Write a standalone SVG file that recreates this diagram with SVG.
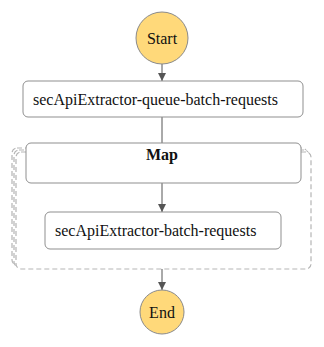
<svg xmlns="http://www.w3.org/2000/svg" width="324" height="347" viewBox="0 0 324 347">
  <style>
    .terminal { fill: #ffd97a; stroke: #8a8a8a; stroke-width: 1; }
    .task { fill: #ffffff; stroke: #8f8f8f; stroke-width: 1; }
    .frame { fill: #ffffff; stroke: #b5b5b5; stroke-width: 1.2; stroke-dasharray: 5 3; }
    .label { font-family: "Liberation Serif", "Times New Roman", serif; font-size: 16px; fill: #111; }
    .bold { font-weight: bold; }
    .edge { stroke: #555; stroke-width: 1; fill: none; }
  </style>
  <defs>
    <marker id="arrow" viewBox="0 0 10 10" refX="10" refY="5" markerWidth="8" markerHeight="8" markerUnits="userSpaceOnUse" orient="auto">
      <path d="M0,0 L10,5 L0,10 z" fill="#555"/>
    </marker>
  </defs>
  <rect width="324" height="347" fill="#ffffff"/>

  <!-- map iteration frame: stacked dashed outlines, back to front -->
  <g id="map-frame">
    <rect class="frame" x="12" y="148" width="295" height="117" rx="5"/>
    <rect class="frame" x="14" y="150" width="295" height="117" rx="5"/>
    <rect class="frame" x="16" y="152" width="295" height="117" rx="5"/>
  </g>

  <g id="connectors">
    <line class="edge" x1="162" y1="64" x2="162" y2="81" marker-end="url(#arrow)"/>
    <line class="edge" x1="162" y1="117" x2="162" y2="143"/>
    <line class="edge" x1="162" y1="183" x2="162" y2="212" marker-end="url(#arrow)"/>
    <line class="edge" x1="162" y1="269" x2="162" y2="290" marker-end="url(#arrow)"/>
  </g>

  <g id="start">
    <circle class="terminal" cx="162" cy="38" r="26"/>
    <text class="label" x="162" y="43.5" text-anchor="middle">Start</text>
  </g>

  <g id="queue-batch-requests">
    <rect class="task" x="23" y="81" width="280" height="36" rx="5"/>
    <text class="label" x="33" y="104.5">secApiExtractor-queue-batch-requests</text>
  </g>

  <g id="map">
    <rect class="task" x="26" y="143" width="275" height="40" rx="5"/>
    <text class="label bold" x="162" y="160" text-anchor="middle">Map</text>
  </g>

  <g id="batch-requests">
    <rect class="task" x="45" y="212" width="236" height="37" rx="5"/>
    <text class="label" x="55" y="236">secApiExtractor-batch-requests</text>
  </g>

  <g id="end">
    <circle class="terminal" cx="162" cy="312" r="22"/>
    <text class="label" x="162" y="317.5" text-anchor="middle">End</text>
  </g>
</svg>
